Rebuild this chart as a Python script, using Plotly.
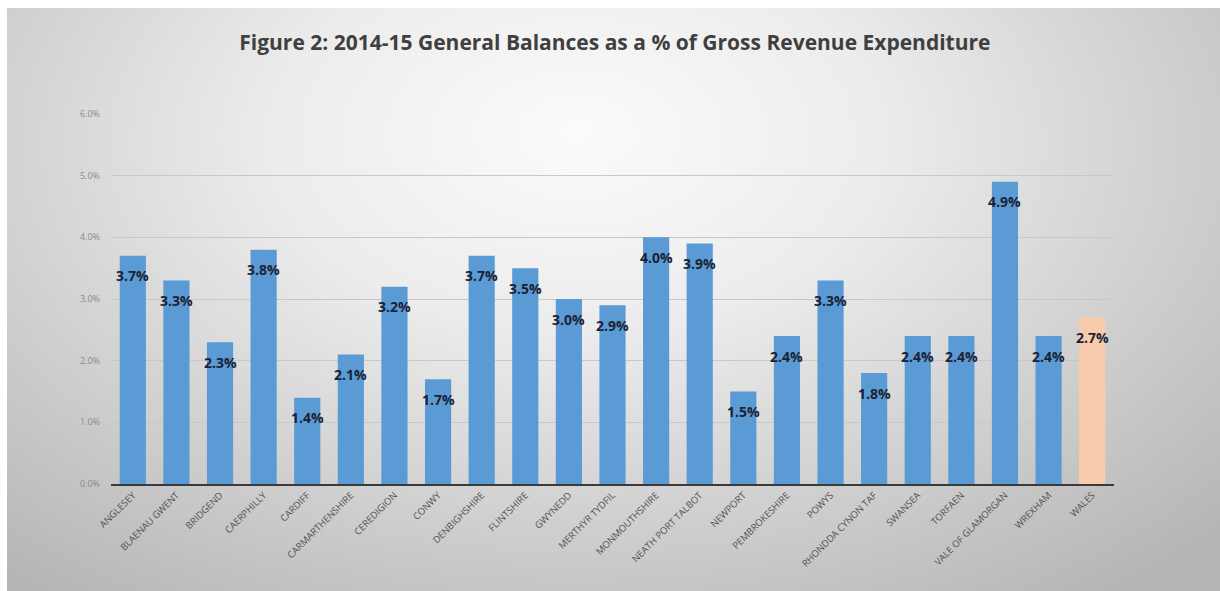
import base64
import plotly.graph_objects as go

# General balances as a share of gross revenue expenditure, 2014-15
authorities = [
    "ANGLESEY", "BLAENAU GWENT", "BRIDGEND", "CAERPHILLY", "CARDIFF",
    "CARMARTHENSHIRE", "CEREDIGION", "CONWY", "DENBIGHSHIRE", "FLINTSHIRE",
    "GWYNEDD", "MERTHYR TYDFIL", "MONMOUTHSHIRE", "NEATH PORT TALBOT",
    "NEWPORT", "PEMBROKESHIRE", "POWYS", "RHONDDA CYNON TAF", "SWANSEA",
    "TORFAEN", "VALE OF GLAMORGAN", "WREXHAM", "WALES",
]
balance_pct = [
    3.7, 3.3, 2.3, 3.8, 1.4, 2.1, 3.2, 1.7, 3.7, 3.5,
    3.0, 2.9, 4.0, 3.9, 1.5, 2.4, 3.3, 1.8, 2.4, 2.4,
    4.9, 2.4, 2.7,
]
y_ticks = [0, 1, 2, 3, 4, 5, 6]
y_tick_text = ["0.0%", "1.0%", "2.0%", "3.0%", "4.0%", "5.0%", "6.0%"]

BLUE = "#5b9bd5"
PEACH = "#f8cbad"
bar_colors = [PEACH if a == "WALES" else BLUE for a in authorities]

# Soft grey radial backdrop behind the whole chart
bg_svg = """<svg xmlns='http://www.w3.org/2000/svg' width='1213' height='583'
 viewBox='0 0 1213 583' preserveAspectRatio='none'>
<defs>
<radialGradient id='g' cx='0.47' cy='0.25' r='0.72' fx='0.47' fy='0.22'
 gradientTransform='translate(0.47 0.25) scale(1 1.3) translate(-0.47 -0.25)'>
<stop offset='0' stop-color='#fbfbfb'/>
<stop offset='0.35' stop-color='#ececec'/>
<stop offset='0.72' stop-color='#cdcdcd'/>
<stop offset='1' stop-color='#b6b6b6'/>
</radialGradient>
</defs>
<rect width='1213' height='583' fill='url(#g)'/>
</svg>"""
bg_uri = "data:image/svg+xml;base64," + base64.b64encode(bg_svg.encode()).decode()

fig = go.Figure(
    go.Bar(
        x=authorities,
        y=balance_pct,
        marker=dict(color=bar_colors, line=dict(width=0)),
        hoverinfo="x+y",
    )
)

# Value labels sitting just inside the top of each bar
for name, val in zip(authorities, balance_pct):
    fig.add_annotation(
        x=name, y=val, text=f"{val:.1f}%", showarrow=False,
        yanchor="middle", yshift=-20,
        font=dict(family="Open Sans", size=14, color="#1c2233", weight="bold"),
    )

W, H = 1220, 591
ML, MR, MT, MB = 111, 106, 114, 107
pw, ph = W - ML - MR, H - MT - MB

fig.add_layout_image(
    source=bg_uri, xref="paper", yref="paper",
    x=(7 - ML) / pw, y=(H - MB - 8) / ph,
    sizex=(W - 7) / pw, sizey=(H - 8) / ph,
    xanchor="left", yanchor="top", sizing="stretch", layer="below",
)

fig.update_layout(
    width=W, height=H,
    margin=dict(l=ML, r=MR, t=MT, b=MB),
    paper_bgcolor="white",
    plot_bgcolor="rgba(0,0,0,0)",
    bargap=0.4,
    showlegend=False,
    title=dict(
        text="<b>Figure 2: 2014-15 General Balances as a % of Gross Revenue Expenditure</b>",
        x=0.504, xanchor="center", y=1 - 43 / H, yanchor="middle",
        font=dict(family="Open Sans", size=21, color="#3f3f3f"),
    ),
    font=dict(family="Open Sans"),
)
fig.update_xaxes(
    tickangle=-45, tickfont=dict(size=9.5, color="#505050"),
    showgrid=False, showline=True, linecolor="#3a3a3a", linewidth=2,
    ticks="", fixedrange=True,
)
fig.update_yaxes(
    range=[0, 6], tickvals=y_ticks, ticktext=y_tick_text,
    tickfont=dict(size=9, color="#8a8a8a"),
    showgrid=True, gridcolor="#c8c8c8", gridwidth=1,
    zeroline=False, showline=False, ticks="", ticklabelstandoff=10,
    fixedrange=True,
)

fig.write_html("out.html")
